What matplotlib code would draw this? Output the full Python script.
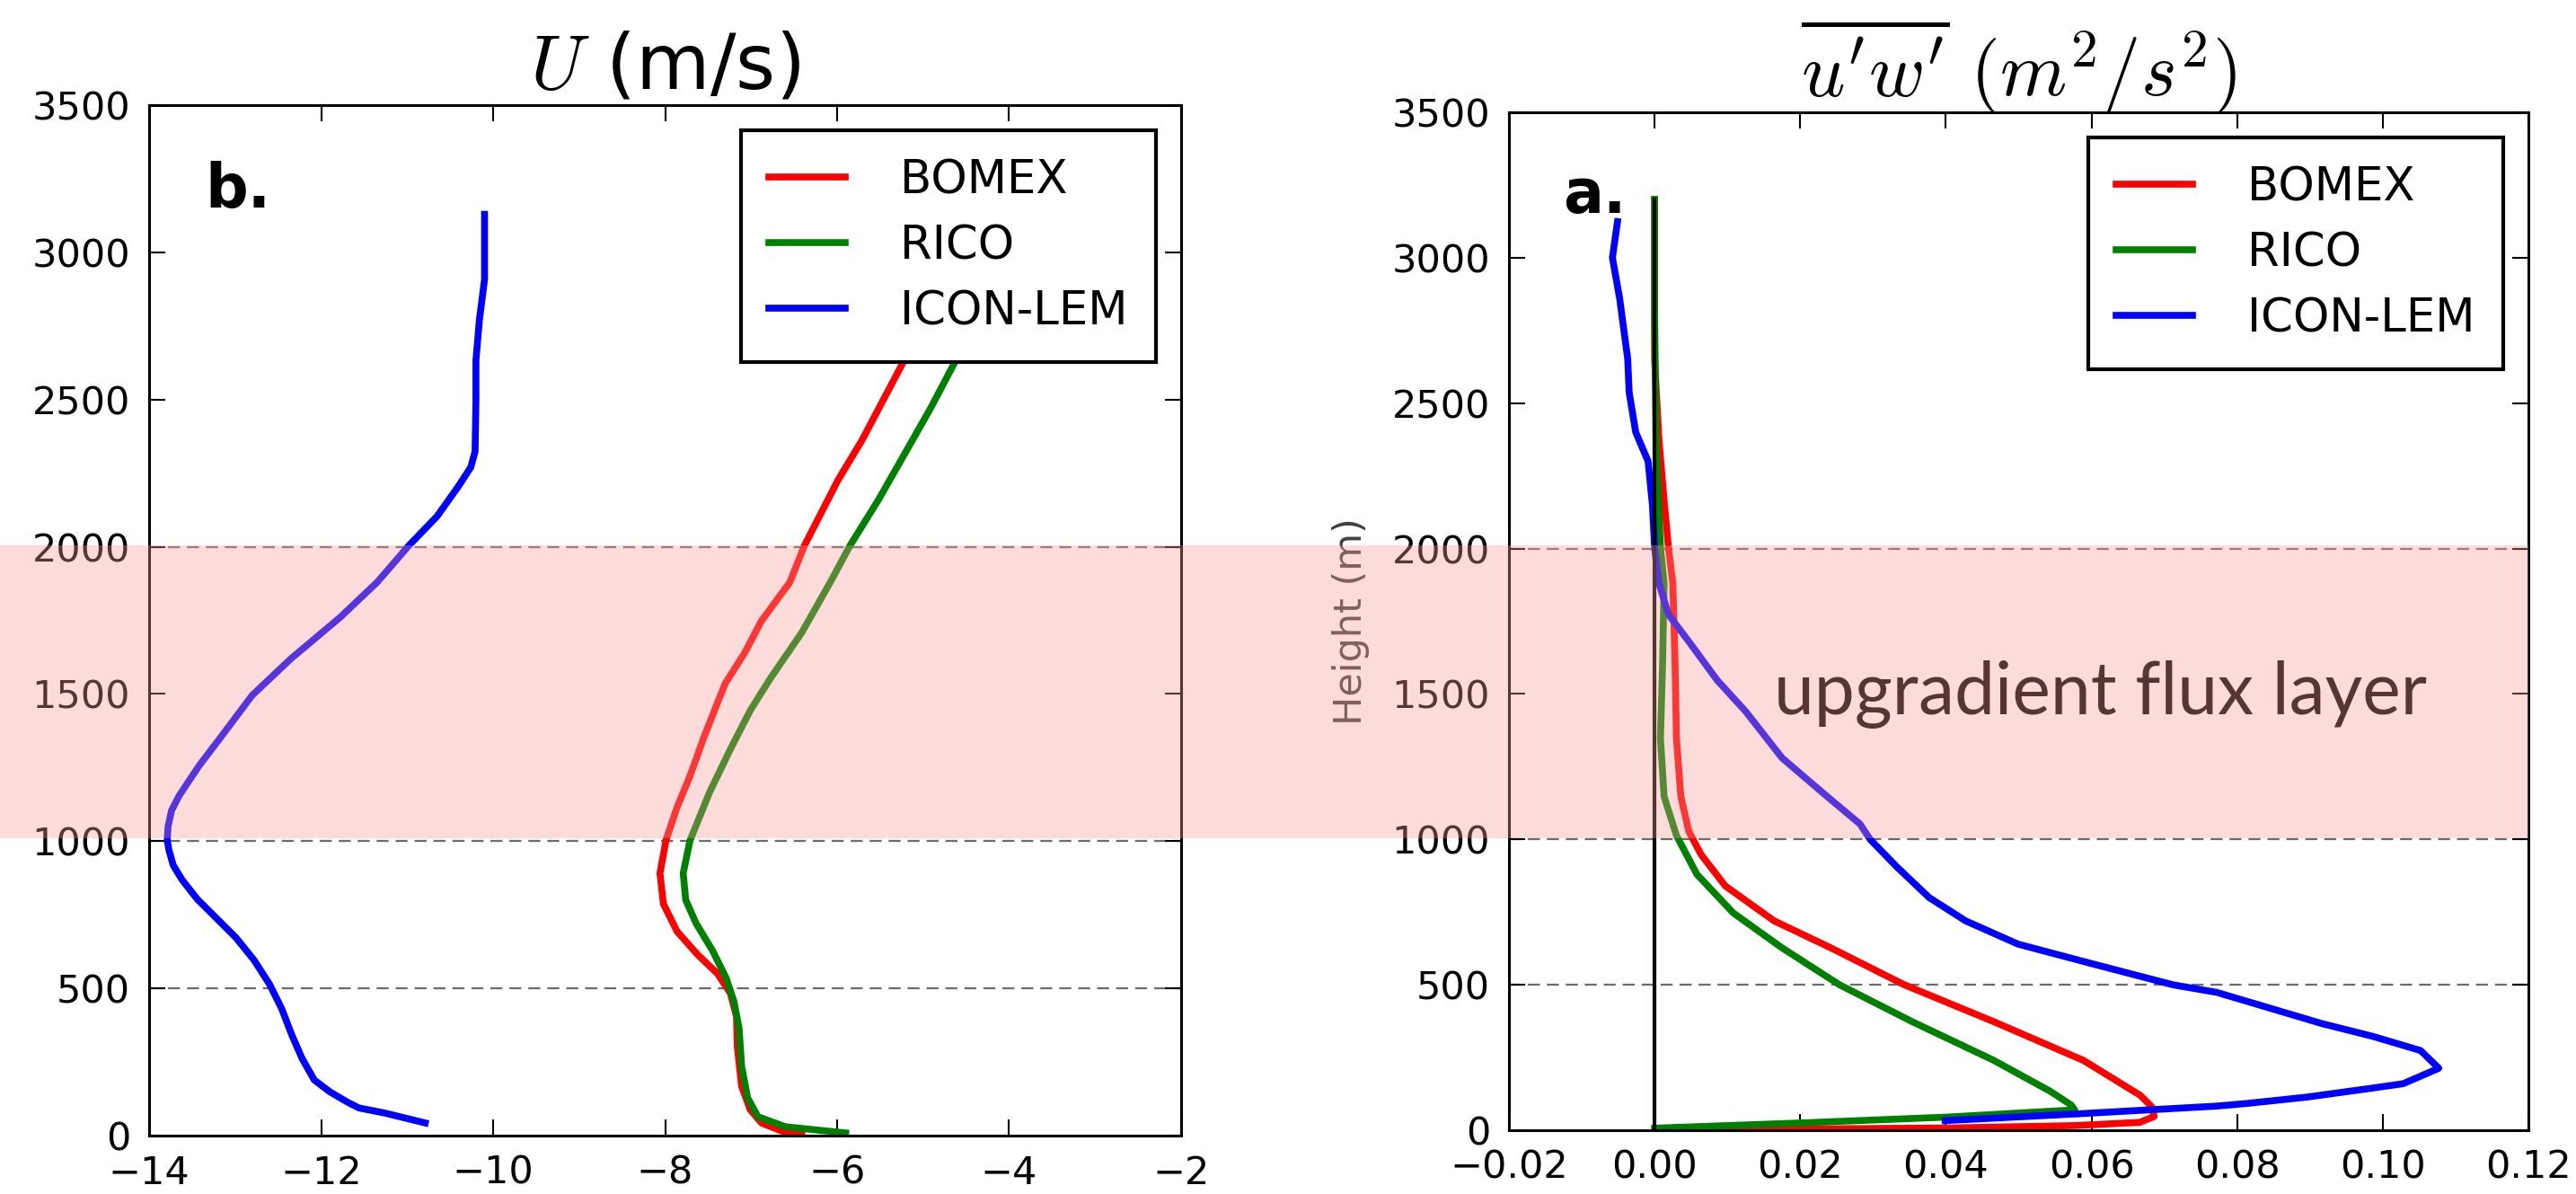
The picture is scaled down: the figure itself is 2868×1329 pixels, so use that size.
import matplotlib
matplotlib.use('Agg')
import matplotlib.pyplot as plt
from matplotlib.patches import Rectangle
from matplotlib.transforms import blended_transform_factory

# --- dados ---
labels = ['BOMEX', 'RICO', 'ICON-LEM']
colors = ['r', 'g', 'b']

# painel b: vento U (m/s)
z_u_bomex = [9, 15, 43, 88, 167, 301, 404, 483, 550, 614, 693, 787, 891, 1003,
             1116, 1222, 1352, 1456, 1536, 1642, 1748, 1879, 2004, 2226, 2362, 2633]
u_bomex = [-6.41, -6.64, -6.88, -7.01, -7.11, -7.16, -7.17, -7.24, -7.39, -7.62,
           -7.86, -8.02, -8.06, -7.99, -7.86, -7.71, -7.55, -7.41, -7.30, -7.07,
           -6.88, -6.55, -6.38, -5.99, -5.71, -5.22]

z_u_rico = [9, 30, 64, 128, 234, 365, 456, 535, 629, 721, 800, 891, 1003, 1168,
            1313, 1444, 1551, 1709, 1879, 2004, 2159, 2323, 2472, 2633]
u_rico = [-5.90, -6.60, -6.92, -7.04, -7.11, -7.14, -7.20, -7.29, -7.45, -7.64,
          -7.76, -7.79, -7.71, -7.48, -7.24, -7.01, -6.78, -6.41, -6.08, -5.85,
          -5.52, -5.20, -4.91, -4.62]

z_u_icon = [43, 76, 94, 113, 149, 189, 261, 341, 432, 514, 596, 672, 742, 803, 870,
            918, 970, 1003, 1050, 1104, 1155, 1256, 1352, 1496, 1620, 1760, 1879,
            2004, 2104, 2207, 2270, 2323, 2499, 2633, 2770, 2907, 3129]
u_icon = [-10.79, -11.25, -11.56, -11.69, -11.90, -12.08, -12.22, -12.34, -12.46,
          -12.60, -12.78, -12.99, -13.23, -13.44, -13.62, -13.72, -13.77, -13.79,
          -13.78, -13.74, -13.65, -13.42, -13.17, -12.80, -12.35, -11.78, -11.35,
          -10.98, -10.65, -10.40, -10.26, -10.21, -10.20, -10.20, -10.16, -10.10,
          -10.10]

# painel a: fluxo u'w' (m2/s2)
z_uw_bomex = [0, 4, 8, 16, 27, 47, 80, 120, 240, 373, 500, 627, 720, 840, 947, 1027,
              1147, 1347, 1613, 1880, 2003, 2166, 2372, 2647, 3200]
uw_bomex = [0.0, 0.0186, 0.041, 0.0577, 0.0666, 0.0686, 0.0683, 0.0667, 0.0589,
            0.0466, 0.0343, 0.0242, 0.0164, 0.0097, 0.0064, 0.0047, 0.0036, 0.0030,
            0.0028, 0.0025, 0.0019, 0.0013, 0.0006, 0.0, 0.0]

z_uw_rico = [7, 25, 45, 70, 87, 133, 240, 373, 500, 627, 747, 880, 1013, 1147, 1347,
             1613, 1880, 2003, 2347, 2800, 3200]
uw_rico = [0.0, 0.02, 0.04, 0.0577, 0.0572, 0.0544, 0.0466, 0.0354, 0.0254, 0.0175,
           0.0108, 0.0058, 0.0030, 0.0013, 0.0008, 0.0011, 0.0013, 0.0008, 0.0002,
           0.0, 0.0]

z_uw_icon = [33, 56, 83, 92, 114, 145, 160, 213, 274, 323, 367, 428, 474, 500, 573,
             640, 720, 800, 907, 1000, 1053, 1160, 1280, 1440, 1547, 1680, 1773, 1880,
             2000, 2148, 2300, 2400, 2537, 2652, 2859, 3000, 3124]
uw_icon = [0.0399, 0.0578, 0.0772, 0.0813, 0.0896, 0.0986, 0.1028, 0.1077, 0.1052,
           0.0986, 0.0916, 0.0834, 0.0772, 0.0712, 0.0600, 0.0499, 0.0427, 0.0377,
           0.0332, 0.0296, 0.0282, 0.0231, 0.0175, 0.0125, 0.0086, 0.0047, 0.0019,
           0.0006, 0.0, -0.0003, -0.0009, -0.0026, -0.0035, -0.0037, -0.0048,
           -0.0058, -0.0051]

zero_line_top = 3200
dash_heights = [500, 1000, 2000]
band_lo, band_hi = 1005, 2010

# --- figura ---
plt.rcParams['font.family'] = 'DejaVu Sans'
plt.rcParams['mathtext.fontset'] = 'cm'

fig = plt.figure(figsize=(28.68, 13.29), dpi=100)
ax1 = fig.add_axes([0.0579, 0.0489, 0.4006, 0.8631])
ax2 = fig.add_axes([0.5858, 0.0534, 0.3957, 0.8526])

for ax in (ax1, ax2):
    for h in dash_heights:
        ax.axhline(h, color='0.42', lw=1.6, ls=(0, (6, 3.5)), zorder=1)

lw = 5.5
ax1.plot(u_bomex, z_u_bomex, color=colors[0], lw=lw, label=labels[0])
ax1.plot(u_rico, z_u_rico, color=colors[1], lw=lw, label=labels[1])
ax1.plot(u_icon, z_u_icon, color=colors[2], lw=lw, label=labels[2])

ax2.plot(uw_bomex, z_uw_bomex, color=colors[0], lw=lw, label=labels[0])
ax2.plot(uw_rico, z_uw_rico, color=colors[1], lw=lw, label=labels[1])
ax2.plot(uw_icon, z_uw_icon, color=colors[2], lw=lw, label=labels[2])
ax2.plot([0, 0], [0, zero_line_top], color='k', lw=3, zorder=3)

ax1.set_xlim(-14, -2)
ax2.set_xlim(-0.02, 0.12)
for ax in (ax1, ax2):
    ax.set_ylim(0, 3500)
    ax.set_yticks(range(0, 3501, 500))
    ax.tick_params(direction='in', top=True, right=True, length=13, width=1.5,
                   labelsize=31)
    ax.tick_params(axis='x', pad=15)
    ax.tick_params(axis='y', pad=15)
    for s in ax.spines.values():
        s.set_linewidth(2.2)
    leg = ax.legend(loc='upper right', fontsize=37, fancybox=False, edgecolor='k',
                    framealpha=1, borderaxespad=0.55, handlelength=1.65,
                    handletextpad=1.2, labelspacing=0.45, borderpad=0.6)
    leg.get_frame().set_linewidth(3)
ax1.set_xticks(range(-14, -1, 2))

ax1.set_title(r'$U$ (m/s)', fontsize=61, pad=13)
ax2.set_title(r"$\overline{u'w'}\ (m^2/s^2)$", fontsize=61, pad=13)
ax2.set_ylabel('Height (m)', fontsize=31, labelpad=18, color='0.25')

ax1.text(-13.35, 3153, 'b.', fontsize=48, fontweight='bold', va='baseline')
ax2.text(-0.0126, 3155, 'a.', fontsize=48, fontweight='bold', va='baseline')
ax2.text(0.0612, 1429, 'upgradient flux layer', fontsize=58, family='Lato',
         ha='center', va='baseline', zorder=6)

# faixa rosa cobrindo os dois paineis
trans = blended_transform_factory(fig.transFigure, ax2.transData)
band = Rectangle((0, band_lo), ax2.get_position().x1, band_hi - band_lo,
                 transform=trans, facecolor=(0.976, 0.608, 0.584), alpha=0.35,
                 edgecolor='none', zorder=10)
fig.add_artist(band)

fig.savefig('out.png', dpi=100)
